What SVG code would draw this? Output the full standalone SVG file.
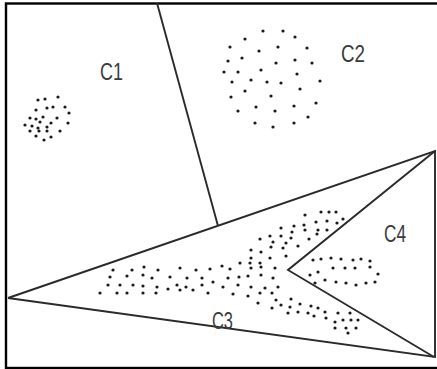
<svg xmlns="http://www.w3.org/2000/svg" width="437" height="369" viewBox="0 0 437 369">
<defs>
<style>
.frame{fill:none;stroke:#000;stroke-width:2.4}
.ln{fill:none;stroke:#2a2a2a;stroke-width:1.9;stroke-linejoin:miter}
.lbl{font-family:"Liberation Sans",Arial,sans-serif;font-size:23px;fill:#3a3a3a}
.d{fill:#1a1a1a}
</style>
<circle id="dt" r="1.6"/>
</defs>
<rect width="437" height="369" fill="#fff"/>
<rect class="frame" x="6" y="3.5" width="440" height="364.5"/>
<g id="connectors">
<line class="ln" x1="157" y1="3" x2="218" y2="226"/>
<polyline class="ln" points="8,298 435,151 435,357 8,298"/>
<polyline class="ln" points="435,151 288,270 434,357"/>
</g>
<g id="C1">
<text class="lbl" x="100" y="80" textLength="23" lengthAdjust="spacingAndGlyphs">C1</text>
<g class="d">
<use href="#dt" x="38" y="100"/><use href="#dt" x="45" y="99"/><use href="#dt" x="58" y="97"/>
<use href="#dt" x="36" y="110"/><use href="#dt" x="47" y="108"/><use href="#dt" x="53" y="107"/><use href="#dt" x="65" y="107"/><use href="#dt" x="69" y="113"/>
<use href="#dt" x="30" y="118"/><use href="#dt" x="36" y="119"/><use href="#dt" x="43" y="117"/><use href="#dt" x="40" y="122"/><use href="#dt" x="51" y="123"/><use href="#dt" x="57" y="118"/>
<use href="#dt" x="25" y="125"/><use href="#dt" x="32" y="126"/><use href="#dt" x="38" y="128"/><use href="#dt" x="47" y="127"/><use href="#dt" x="68" y="123"/>
<use href="#dt" x="30" y="131"/><use href="#dt" x="39" y="131"/><use href="#dt" x="47" y="131"/><use href="#dt" x="60" y="131"/>
<use href="#dt" x="36" y="136"/><use href="#dt" x="44" y="140"/><use href="#dt" x="51" y="137"/>
</g>
</g>
<g id="C2">
<text class="lbl" x="341" y="62" textLength="24" lengthAdjust="spacingAndGlyphs">C2</text>
<g class="d">
<use href="#dt" x="263" y="31"/><use href="#dt" x="283" y="31"/><use href="#dt" x="245" y="39"/><use href="#dt" x="295" y="37"/>
<use href="#dt" x="230" y="47"/><use href="#dt" x="259" y="51"/><use href="#dt" x="278" y="47"/><use href="#dt" x="307" y="48"/>
<use href="#dt" x="228" y="61"/><use href="#dt" x="242" y="58"/><use href="#dt" x="276" y="63"/><use href="#dt" x="295" y="60"/><use href="#dt" x="312" y="63"/>
<use href="#dt" x="224" y="72"/><use href="#dt" x="238" y="72"/><use href="#dt" x="261" y="70"/><use href="#dt" x="297" y="74"/>
<use href="#dt" x="232" y="82"/><use href="#dt" x="251" y="80"/><use href="#dt" x="267" y="82"/><use href="#dt" x="281" y="83"/><use href="#dt" x="320" y="81"/>
<use href="#dt" x="245" y="91"/><use href="#dt" x="300" y="89"/><use href="#dt" x="231" y="97"/><use href="#dt" x="271" y="96"/><use href="#dt" x="316" y="103"/>
<use href="#dt" x="238" y="111"/><use href="#dt" x="256" y="107"/><use href="#dt" x="275" y="111"/><use href="#dt" x="294" y="106"/><use href="#dt" x="308" y="117"/>
<use href="#dt" x="255" y="123"/><use href="#dt" x="273" y="127"/><use href="#dt" x="294" y="123"/>
</g>
</g>
<g id="C3">
<text class="lbl" x="212" y="329" textLength="21" lengthAdjust="spacingAndGlyphs">C3</text>
<g class="d">
<use href="#dt" x="113" y="270"/><use href="#dt" x="132" y="270"/><use href="#dt" x="144" y="267"/><use href="#dt" x="158" y="270"/><use href="#dt" x="180" y="268"/><use href="#dt" x="196" y="270"/><use href="#dt" x="210" y="269"/>
<use href="#dt" x="110" y="277"/><use href="#dt" x="127" y="276"/><use href="#dt" x="143" y="275"/><use href="#dt" x="152" y="278"/><use href="#dt" x="170" y="277"/><use href="#dt" x="187" y="278"/><use href="#dt" x="202" y="278"/><use href="#dt" x="213" y="282"/>
<use href="#dt" x="108" y="285"/><use href="#dt" x="120" y="285"/><use href="#dt" x="133" y="285"/><use href="#dt" x="143" y="286"/><use href="#dt" x="157" y="287"/><use href="#dt" x="177" y="285"/><use href="#dt" x="186" y="287"/><use href="#dt" x="202" y="285"/>
<use href="#dt" x="100" y="293"/><use href="#dt" x="117" y="293"/><use href="#dt" x="127" y="293"/><use href="#dt" x="143" y="293"/><use href="#dt" x="156" y="293"/><use href="#dt" x="168" y="289"/><use href="#dt" x="180" y="290"/><use href="#dt" x="193" y="290"/><use href="#dt" x="208" y="293"/>
<use href="#dt" x="305" y="215"/><use href="#dt" x="321" y="212"/><use href="#dt" x="329" y="212"/><use href="#dt" x="336" y="212"/><use href="#dt" x="343" y="219"/>
<use href="#dt" x="294" y="226"/><use href="#dt" x="304" y="225"/><use href="#dt" x="316" y="222"/><use href="#dt" x="327" y="221"/><use href="#dt" x="337" y="223"/>
<use href="#dt" x="281" y="228"/><use href="#dt" x="292" y="232"/><use href="#dt" x="305" y="230"/><use href="#dt" x="318" y="230"/><use href="#dt" x="327" y="230"/>
<use href="#dt" x="270" y="236"/><use href="#dt" x="281" y="236"/><use href="#dt" x="291" y="238"/><use href="#dt" x="309" y="239"/><use href="#dt" x="317" y="234"/>
<use href="#dt" x="260" y="239"/><use href="#dt" x="273" y="242"/><use href="#dt" x="286" y="243"/><use href="#dt" x="298" y="246"/>
<use href="#dt" x="251" y="250"/><use href="#dt" x="261" y="252"/><use href="#dt" x="271" y="247"/><use href="#dt" x="283" y="248"/><use href="#dt" x="286" y="256"/>
<use href="#dt" x="251" y="258"/><use href="#dt" x="260" y="263"/><use href="#dt" x="270" y="258"/><use href="#dt" x="250" y="263"/>
<use href="#dt" x="222" y="266"/><use href="#dt" x="230" y="269"/><use href="#dt" x="240" y="263"/><use href="#dt" x="251" y="268"/><use href="#dt" x="261" y="267"/><use href="#dt" x="275" y="268"/>
<use href="#dt" x="228" y="278"/><use href="#dt" x="239" y="277"/><use href="#dt" x="248" y="276"/><use href="#dt" x="261" y="275"/><use href="#dt" x="273" y="278"/>
<use href="#dt" x="223" y="287"/><use href="#dt" x="238" y="285"/><use href="#dt" x="251" y="287"/><use href="#dt" x="265" y="288"/><use href="#dt" x="278" y="287"/>
<use href="#dt" x="233" y="294"/><use href="#dt" x="248" y="296"/><use href="#dt" x="260" y="293"/><use href="#dt" x="272" y="293"/>
<use href="#dt" x="258" y="303"/><use href="#dt" x="276" y="300"/>
<use href="#dt" x="281" y="305"/><use href="#dt" x="291" y="299"/><use href="#dt" x="272" y="308"/><use href="#dt" x="290" y="307"/><use href="#dt" x="300" y="304"/><use href="#dt" x="311" y="306"/><use href="#dt" x="318" y="308"/><use href="#dt" x="338" y="313"/><use href="#dt" x="350" y="313"/>
<use href="#dt" x="288" y="313"/><use href="#dt" x="298" y="312"/><use href="#dt" x="308" y="313"/><use href="#dt" x="325" y="312"/><use href="#dt" x="343" y="320"/>
<use href="#dt" x="314" y="316"/><use href="#dt" x="326" y="318"/><use href="#dt" x="335" y="322"/><use href="#dt" x="351" y="320"/><use href="#dt" x="358" y="320"/>
<use href="#dt" x="335" y="328"/><use href="#dt" x="346" y="328"/><use href="#dt" x="356" y="328"/><use href="#dt" x="348" y="333"/>
</g>
</g>
<g id="C4">
<text class="lbl" x="384" y="242" textLength="22" lengthAdjust="spacingAndGlyphs">C4</text>
<g class="d">
<use href="#dt" x="313" y="260"/><use href="#dt" x="321" y="259"/><use href="#dt" x="331" y="258"/><use href="#dt" x="341" y="259"/><use href="#dt" x="353" y="260"/><use href="#dt" x="361" y="259"/><use href="#dt" x="370" y="261"/>
<use href="#dt" x="310" y="275"/><use href="#dt" x="318" y="272"/><use href="#dt" x="333" y="268"/><use href="#dt" x="345" y="268"/><use href="#dt" x="355" y="268"/><use href="#dt" x="370" y="267"/><use href="#dt" x="378" y="274"/>
<use href="#dt" x="315" y="283"/><use href="#dt" x="325" y="280"/><use href="#dt" x="336" y="282"/><use href="#dt" x="346" y="283"/><use href="#dt" x="356" y="285"/><use href="#dt" x="366" y="283"/><use href="#dt" x="375" y="282"/>
</g>
</g>
</svg>
